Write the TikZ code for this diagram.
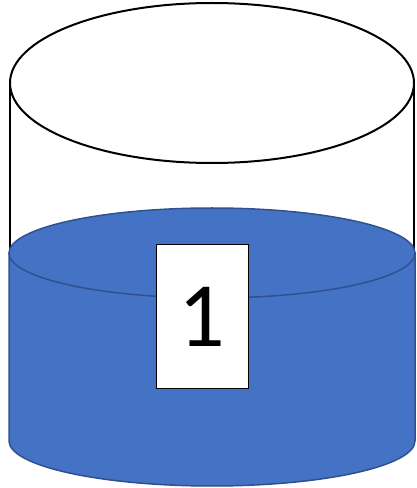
\documentclass[tikz,border=0pt]{standalone}
\usepackage{fontspec}
\setmainfont{Carlito}
\usepackage{xcolor}
\usepackage{tikz}
\definecolor{Black}{HTML}{000000}
\definecolor{WaterBlue}{HTML}{4472C4}
\definecolor{WaterEdge}{HTML}{2F528F}
\definecolor{White}{HTML}{FFFFFF}

\begin{document}
\begin{tikzpicture}[x=1pt, y=1pt]
  \tikzstyle{rim} = [draw=Black, line width=2pt]
  \tikzstyle{water} = [draw=WaterEdge, fill=WaterBlue, line width=1.5pt]
  \tikzstyle{tag} = [rectangle, draw=Black, fill=White, line width=1pt, minimum width=92pt, minimum height=144pt, inner sep=0pt, font=\fontsize{92}{92}\selectfont]

  \useasboundingbox (0,0) rectangle (417,488);

  % glass
  \draw [rim] (212,405) ellipse [x radius=202, y radius=80];
  \draw [rim] (10,405) -- (10,235);
  \draw [rim] (414,405) -- (414,235);

  % water
  \draw [water] (9,235) -- (9,47) arc [start angle=180, end angle=360, x radius=203, y radius=45] -- (415,235) -- cycle;
  \draw [water] (212,235) ellipse [x radius=203, y radius=45];

  % label
  \node [tag] (label) at (202,171) {1};
\end{tikzpicture}
\end{document}
